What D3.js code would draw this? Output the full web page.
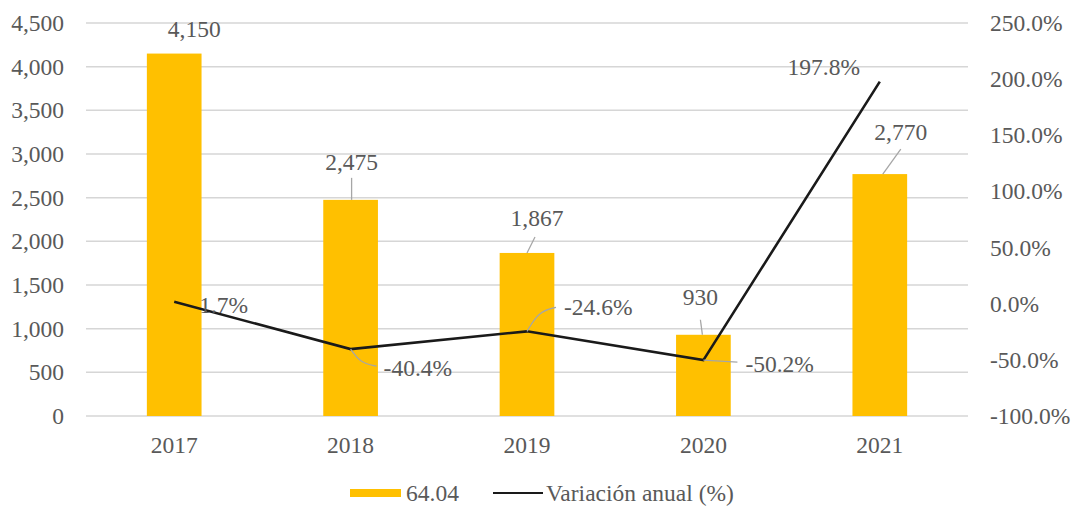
<!DOCTYPE html>
<html>
<head>
<meta charset="utf-8">
<script src="https://cdn.jsdelivr.net/npm/d3@7"></script>
<style>
  html, body { margin: 0; padding: 0; background: #fff; }
  svg { display: block; }
  svg text { font-family: "Liberation Serif", "DejaVu Serif", serif !important; fill: #595959; }
</style>
</head>
<body>
<svg id="chart" width="1080" height="508" font-family="Liberation Serif"></svg>
<script>
const years = ["2017", "2018", "2019", "2020", "2021"];
const barValues = [4150, 2475, 1867, 930, 2770];
const variation = [1.7, -40.4, -24.6, -50.2, 197.8];
const leftTicks = [0, 500, 1000, 1500, 2000, 2500, 3000, 3500, 4000, 4500];
const rightTicks = [-100, -50, 0, 50, 100, 150, 200, 250];
const barSeriesName = "64.04";
const lineSeriesName = "Variación anual (%)";

const FS = 23.5;
const svg = d3.select("#chart");
const margin = { left: 86, right: 112, top: 23, bottom: 92 };
const W = 1080, H = 508;
const x = d3.scaleBand().domain(years).range([margin.left, W - margin.right]).paddingInner(0.69).paddingOuter(0.345);
const yL = d3.scaleLinear().domain([0, 4500]).range([H - margin.bottom, margin.top]);
const yR = d3.scaleLinear().domain([-100, 250]).range([H - margin.bottom, margin.top]);
const cx = d => x(d) + x.bandwidth() / 2;

// grid
svg.append("g").selectAll("line").data(leftTicks).join("line")
  .attr("x1", margin.left).attr("x2", W - margin.right)
  .attr("y1", d => yL(d)).attr("y2", d => yL(d))
  .attr("stroke", "#d6d6d6").attr("stroke-width", 1.5);

function styleAxis(g) {
  g.select(".domain").remove();
  g.attr("font-family", null).attr("font-size", null);
  g.selectAll("text").attr("font-size", FS).attr("fill", "#595959");
}

// left axis
svg.append("g").attr("transform", `translate(${margin.left - 22},0)`)
  .call(d3.axisLeft(yL).tickValues(leftTicks).tickFormat(d3.format(",")).tickSize(0).tickPadding(0))
  .call(styleAxis);

// right axis
svg.append("g").attr("transform", `translate(${W - margin.right + 22},0)`)
  .call(d3.axisRight(yR).tickValues(rightTicks).tickFormat(d => d.toFixed(1) + "%").tickSize(0).tickPadding(0))
  .call(styleAxis);

// x axis
svg.append("g").attr("transform", `translate(0,${H - margin.bottom + 29})`)
  .call(d3.axisBottom(x).tickSize(0).tickPadding(0))
  .call(styleAxis)
  .selectAll("text").attr("dy", null).attr("dominant-baseline", "central");

// bars
svg.append("g").selectAll("rect").data(years).join("rect")
  .attr("x", d => x(d)).attr("width", x.bandwidth())
  .attr("y", (d, i) => yL(barValues[i]))
  .attr("height", (d, i) => yL(0) - yL(barValues[i]))
  .attr("fill", "#FFC000");

// line
const line = d3.line().x((d, i) => cx(years[i])).y(d => yR(d));
svg.append("path").datum(variation).attr("d", line)
  .attr("fill", "none").attr("stroke", "#1a1a1a").attr("stroke-width", 2.6);

// bar labels (offsets relative to bar top centre)
const barLabelOff = [[20, -25], [1, -38], [10, -35], [-3, -38], [21, -42]];
const barLeader = [null, [[1, -22], [1, 0]], [[8, -16], [0, 0]], [[-3, -15], [-1, 0]], [[21, -25], [3, 0]]];
const gBL = svg.append("g");
years.forEach((yr, i) => {
  const bx = cx(yr), by = yL(barValues[i]);
  if (barLeader[i]) {
    gBL.append("path")
      .attr("d", d3.line()(barLeader[i].map(p => [bx + p[0], by + p[1]])))
      .attr("stroke", "#a6a6a6").attr("stroke-width", 1.3).attr("fill", "none");
  }
  gBL.append("text").attr("x", bx + barLabelOff[i][0]).attr("y", by + barLabelOff[i][1])
    .attr("text-anchor", "middle").attr("dominant-baseline", "central")
    .attr("font-size", FS).text(d3.format(",")(barValues[i]));
});

// line labels (offsets relative to point)
const lineLabelOff = [[25, 3, "start"], [33, 19, "start"], [37, -24, "start"], [42, 4, "start"], [-56, -15, "middle"]];
const lineLeader = [null, [[0, 0], [10, 14], [26, 17]], [[0, 0], [12, -20], [29, -24]], [[0, 0], [34, 2]], null];
const gLL = svg.append("g");
years.forEach((yr, i) => {
  const px = cx(yr), py = yR(variation[i]);
  if (lineLeader[i]) {
    gLL.append("path")
      .attr("d", d3.line().curve(d3.curveBasis)(lineLeader[i].map(p => [px + p[0], py + p[1]])))
      .attr("stroke", "#a6a6a6").attr("stroke-width", 1.3).attr("fill", "none");
  }
  gLL.append("text").attr("x", px + lineLabelOff[i][0]).attr("y", py + lineLabelOff[i][1])
    .attr("text-anchor", lineLabelOff[i][2]).attr("dominant-baseline", "central")
    .attr("font-size", FS).text(variation[i].toFixed(1) + "%");
});

// legend
const lg = svg.append("g").attr("transform", "translate(0,493)");
lg.append("rect").attr("x", 350).attr("y", -4).attr("width", 51).attr("height", 8).attr("fill", "#FFC000");
lg.append("text").attr("x", 406).attr("y", 0).attr("dominant-baseline", "central").attr("font-size", FS).text(barSeriesName);
lg.append("line").attr("x1", 493).attr("x2", 543).attr("y1", 0).attr("y2", 0).attr("stroke", "#1a1a1a").attr("stroke-width", 2);
lg.append("text").attr("x", 546).attr("y", 0).attr("dominant-baseline", "central").attr("font-size", FS).text(lineSeriesName);
</script>
</body>
</html>
